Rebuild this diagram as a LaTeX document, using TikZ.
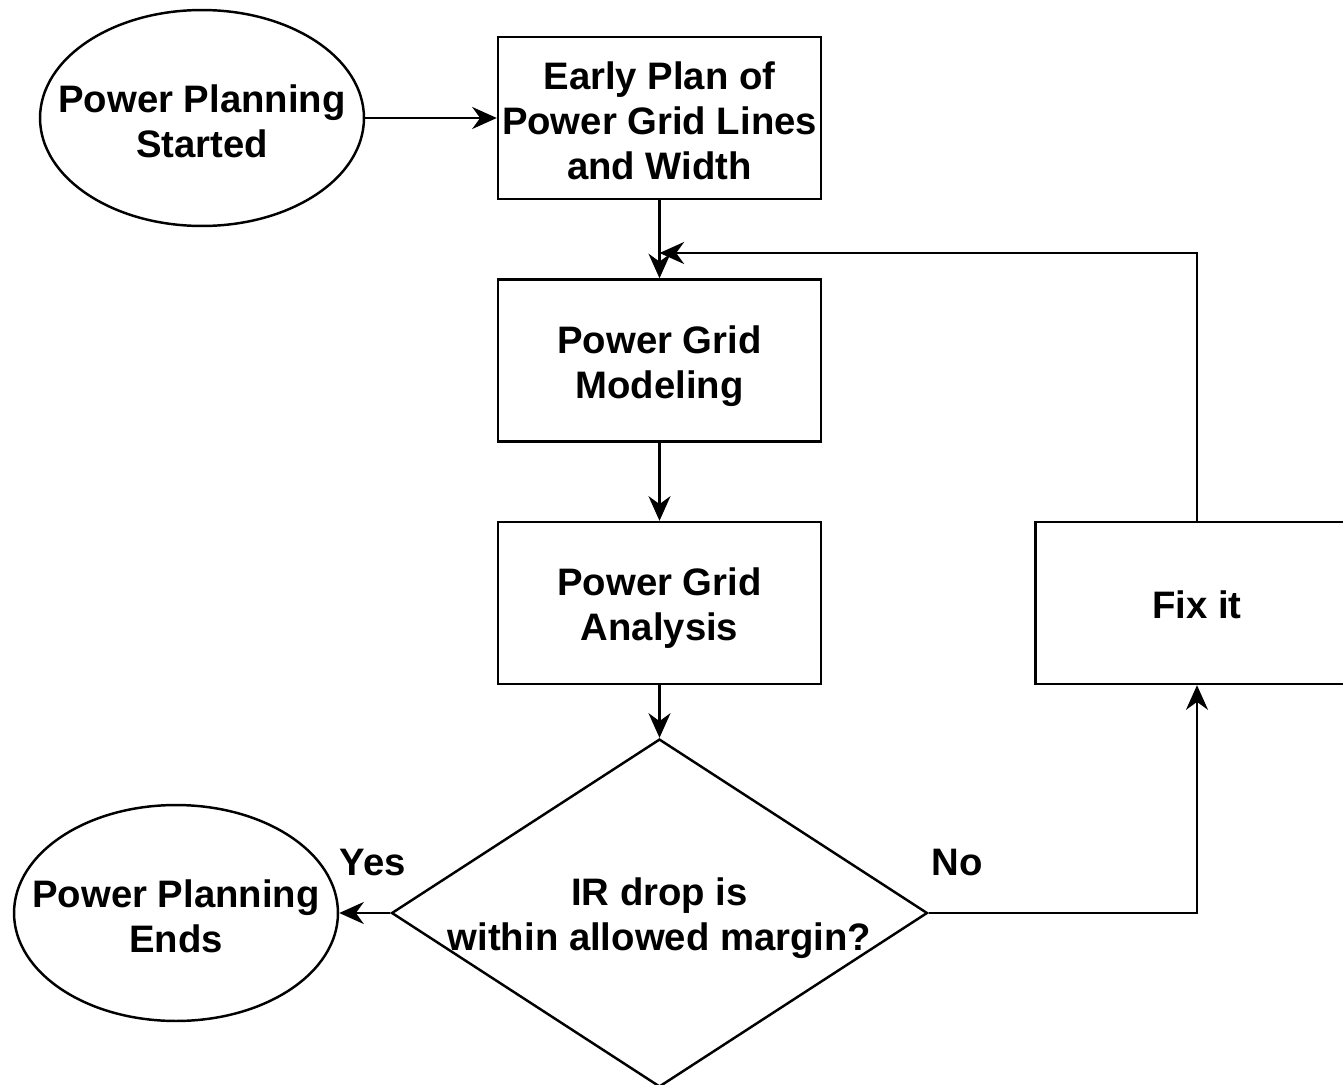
\documentclass[tikz,border=0pt]{standalone}
\usepackage{fontspec}
\setmainfont{Liberation Sans}
\usetikzlibrary{shapes.geometric,arrows.meta}
\begin{document}
\begin{tikzpicture}[x=0.02cm,y=-0.02cm,
  line width=1.4pt,
  lbl/.style={font=\bfseries\fontsize{21.8}{25.5}\selectfont, align=center, inner sep=0pt},
  procbox/.style={draw, rectangle, minimum width=6.46cm, minimum height=3.24cm, inner sep=0pt},
  termshape/.style={draw, ellipse, minimum width=6.48cm, minimum height=4.32cm, inner sep=0pt},
  decshape/.style={draw, diamond, minimum width=10.72cm, minimum height=6.96cm, inner sep=0pt},
  flow/.style={-{Stealth[length=14pt,width=12.5pt,inset=4.5pt]}},
]
\clip (0,0) rectangle (1343,1085);

% terminals
\node[termshape] (start) at (202,118) {};
\node[lbl] (starttxt) at (202,121) {Power Planning\\Started};
\node[termshape] (end) at (176,913) {};
\node[lbl] (endtxt) at (176,916) {Power Planning\\Ends};

% process steps
\node[procbox] (plan) at (659.5,118) {};
\node[lbl] (plantxt) at (659.5,121) {Early Plan of\\Power Grid Lines\\and Width};
\node[procbox] (model) at (659.5,360.5) {};
\node[lbl] (modeltxt) at (659.5,366) {Power Grid\\Modeling};
\node[procbox] (anal) at (659.5,603) {};
\node[lbl] (analtxt) at (659.5,608) {Power Grid\\Analysis};
\node[procbox] (fix) at (1197,603) {};
\node[lbl] (fixtxt) at (1197,605) {Fix it};

% decision
\node[decshape] (dec) at (659.5,913) {};
\node[lbl] (dectxt) at (659.5,918) {IR drop is\\within allowed margin?};

% loop-back junction above the modeling step
\coordinate (merge) at (659.5,253);

% connectors
\draw[flow] (start.east) -- (plan.west);
\draw[flow] (plan.south) -- (model.north);
\draw[flow] (model.south) -- (anal.north);
\draw[flow] (anal.south) -- (dec.north);
\draw[flow] (dec.west) -- (end.east);
\draw[flow] (dec.east) -| (fix.south);
\draw[flow] (fix.north) |- (merge);

% branch labels
\node[lbl] (yes) at (373,863) {Yes};
\node[lbl] (no) at (957,863) {No};
\end{tikzpicture}
\end{document}
